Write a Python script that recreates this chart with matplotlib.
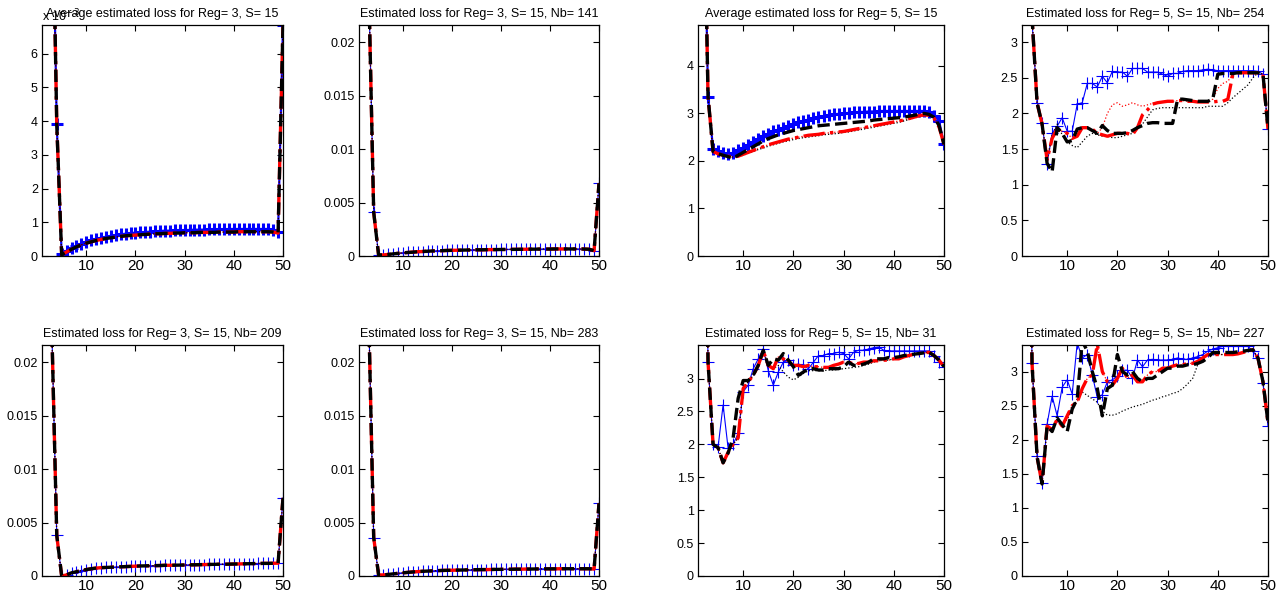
import numpy as np
import matplotlib
matplotlib.use("Agg")
import matplotlib.pyplot as plt
from matplotlib.ticker import FormatStrFormatter

plt.rcParams['font.family'] = ['Liberation Sans', 'DejaVu Sans']
plt.rcParams['font.size'] = 9

# number of clusters on the x axis
k = list(range(2, 51))

# Reg = 3, average (values in units of 1e-3)
avg3_blue = [40.0, 12.1, 3.9, 0.05, 0.16, 0.24, 0.31, 0.37, 0.42, 0.47, 0.51, 0.54, 0.57, 0.60, 0.62,
             0.64, 0.66, 0.68, 0.69, 0.70, 0.71, 0.72, 0.73, 0.74, 0.75, 0.75, 0.76, 0.76, 0.77, 0.77,
             0.78, 0.78, 0.78, 0.79, 0.79, 0.79, 0.79, 0.80, 0.80, 0.80, 0.80, 0.80, 0.80, 0.80, 0.80,
             0.80, 0.77, 0.70, 6.85]
avg3_black = [40.0, 12.1, 3.9, 0.03, 0.12, 0.20, 0.27, 0.33, 0.38, 0.42, 0.46, 0.49, 0.52, 0.54, 0.56,
              0.58, 0.60, 0.61, 0.62, 0.63, 0.64, 0.65, 0.66, 0.66, 0.67, 0.67, 0.68, 0.68, 0.69, 0.69,
              0.69, 0.70, 0.70, 0.70, 0.70, 0.71, 0.71, 0.71, 0.71, 0.72, 0.72, 0.72, 0.72, 0.72, 0.72,
              0.72, 0.71, 0.68, 6.85]

# Reg = 3, single runs
nb141 = [0.2, 0.025, 0.0041, 0.0001, 0.0001, 0.00015, 0.0002, 0.00025, 0.0003, 0.00033, 0.00036,
         0.0004, 0.00042, 0.00045, 0.00047, 0.00049, 0.0005, 0.00052, 0.00053, 0.00054, 0.00055,
         0.00056, 0.00057, 0.00058, 0.00058, 0.00059, 0.0006, 0.0006, 0.00061, 0.00061, 0.00062,
         0.00062, 0.00063, 0.00063, 0.00064, 0.00064, 0.00065, 0.00065, 0.00065, 0.00066, 0.00066,
         0.00066, 0.00066, 0.00066, 0.00066, 0.00065, 0.00063, 0.0005, 0.0068]
nb209 = [0.2, 0.023, 0.0038, 0.0, 0.0001, 0.0003, 0.0004, 0.0005, 0.0006, 0.00068, 0.00074, 0.00078,
         0.0008, 0.00082, 0.00084, 0.00086, 0.00088, 0.0009, 0.00092, 0.00094, 0.00095, 0.00096,
         0.00097, 0.00098, 0.001, 0.001, 0.00101, 0.00102, 0.00103, 0.00104, 0.00105, 0.00106,
         0.00107, 0.00108, 0.00109, 0.0011, 0.0011, 0.00111, 0.00112, 0.00113, 0.00114, 0.00115,
         0.00116, 0.00117, 0.00118, 0.00118, 0.00119, 0.0012, 0.0073]
nb283 = [0.2, 0.024, 0.0036, 0.0001, 0.0001, 0.00015, 0.0002, 0.00025, 0.0003, 0.00034, 0.00038,
         0.00041, 0.00044, 0.00046, 0.00048, 0.0005, 0.00052, 0.00053, 0.00054, 0.00055, 0.00056,
         0.00057, 0.00058, 0.00059, 0.0006, 0.0006, 0.00061, 0.00062, 0.00062, 0.00063, 0.00063,
         0.00064, 0.00064, 0.00065, 0.00065, 0.00066, 0.00066, 0.00067, 0.00067, 0.00067, 0.00068,
         0.00068, 0.00068, 0.00068, 0.00068, 0.00068, 0.00068, 0.00065, 0.0068]

# Reg = 5, average
avg5_blue = [9.0, 3.35, 2.25, 2.2, 2.17, 2.15, 2.17, 2.22, 2.28, 2.34, 2.4, 2.46, 2.52, 2.57, 2.62,
             2.66, 2.7, 2.74, 2.78, 2.81, 2.84, 2.87, 2.9, 2.92, 2.94, 2.96, 2.98, 2.99, 3.0, 3.01,
             3.02, 3.03, 3.03, 3.04, 3.04, 3.05, 3.05, 3.05, 3.05, 3.05, 3.05, 3.05, 3.05, 3.05, 3.05,
             3.02, 2.95, 2.85, 2.35]
avg5_black = [9.0, 3.35, 2.2, 2.15, 2.12, 2.09, 2.06, 2.12, 2.18, 2.24, 2.3, 2.36, 2.42, 2.47, 2.51,
              2.55, 2.58, 2.61, 2.64, 2.66, 2.68, 2.7, 2.72, 2.74, 2.75, 2.76, 2.77, 2.78, 2.79, 2.8,
              2.81, 2.82, 2.83, 2.84, 2.86, 2.87, 2.88, 2.89, 2.9, 2.91, 2.92, 2.94, 2.96, 2.98, 3.0,
              2.98, 2.92, 2.75, 2.35]
avg5_red = [9.0, 3.35, 2.2, 2.15, 2.12, 2.1, 2.08, 2.1, 2.14, 2.18, 2.22, 2.26, 2.3, 2.34, 2.37,
            2.4, 2.43, 2.46, 2.48, 2.5, 2.52, 2.54, 2.55, 2.56, 2.58, 2.59, 2.6, 2.61, 2.62, 2.64,
            2.66, 2.68, 2.7, 2.72, 2.74, 2.76, 2.78, 2.8, 2.82, 2.84, 2.86, 2.89, 2.92, 2.95, 2.97,
            2.96, 2.9, 2.72, 2.35]
avg5_dot = [9.0, 3.35, 2.2, 2.15, 2.12, 2.1, 2.08, 2.09, 2.12, 2.16, 2.2, 2.24, 2.27, 2.31, 2.34,
            2.37, 2.4, 2.42, 2.45, 2.47, 2.49, 2.5, 2.52, 2.53, 2.55, 2.56, 2.57, 2.58, 2.6, 2.61,
            2.63, 2.65, 2.67, 2.69, 2.71, 2.73, 2.75, 2.77, 2.79, 2.81, 2.84, 2.87, 2.9, 2.93, 2.95,
            2.95, 2.9, 2.72, 2.35]

# Reg = 5, Nb = 254
nb254_blue = [9.0, 3.3, 2.15, 1.87, 1.29, 1.72, 1.82, 1.94, 1.75, 1.75, 2.13, 2.15, 2.42, 2.42, 2.37,
              2.52, 2.43, 2.59, 2.58, 2.58, 2.52, 2.63, 2.63, 2.63, 2.58, 2.58, 2.58, 2.55, 2.52, 2.56,
              2.56, 2.59, 2.6, 2.6, 2.6, 2.61, 2.62, 2.61, 2.6, 2.6, 2.6, 2.6, 2.6, 2.6, 2.6,
              2.6, 2.59, 2.55, 1.78]
nb254_black = [9.0, 3.35, 2.15, 1.85, 1.3, 1.18, 1.8, 1.72, 1.6, 1.62, 1.78, 1.8, 1.8, 1.76, 1.72,
               1.83, 1.76, 1.72, 1.72, 1.72, 1.73, 1.76, 1.8, 1.83, 1.86, 1.87, 1.87, 1.86, 1.86, 1.86,
               2.2, 2.2, 2.19, 2.18, 2.17, 2.17, 2.17, 2.2, 2.55, 2.56, 2.56, 2.56, 2.57, 2.57, 2.57,
               2.57, 2.57, 2.55, 1.78]
nb254_red = [9.0, 3.35, 2.15, 1.85, 1.35, 1.65, 1.78, 1.75, 1.72, 1.65, 1.68, 1.8, 1.8, 1.78, 1.72,
             1.7, 1.68, 1.7, 1.72, 1.72, 1.72, 1.7, 1.8, 1.98, 2.05, 2.13, 2.15, 2.16, 2.17, 2.17,
             2.18, 2.18, 2.17, 2.17, 2.16, 2.16, 2.16, 2.16, 2.17, 2.17, 2.2, 2.55, 2.57, 2.57, 2.57,
             2.57, 2.57, 2.55, 1.78]
nb254_dot = [9.0, 3.35, 2.15, 1.85, 1.35, 1.7, 1.85, 1.7, 1.6, 1.55, 1.52, 1.6, 1.68, 1.72, 1.7,
             1.68, 1.68, 1.66, 1.66, 1.68, 1.7, 1.72, 1.78, 1.85, 1.95, 2.05, 2.07, 2.08, 2.08, 2.08,
             2.08, 2.08, 2.08, 2.08, 2.08, 2.08, 2.1, 2.1, 2.1, 2.1, 2.15, 2.22, 2.28, 2.34, 2.4,
             2.5, 2.57, 2.55, 1.78]
nb254_rdot = [9.0, 3.35, 2.15, 1.85, 1.35, 1.65, 1.78, 1.75, 1.72, 1.65, 1.68, 1.8, 1.8, 1.78, 1.72,
              1.8, 2.0, 2.12, 2.15, 2.1, 2.12, 2.15, 2.12, 2.1, 2.12, 2.14, 2.15, 2.16, 2.17, 2.17,
              2.18, 2.18, 2.17, 2.17, 2.16, 2.16, 2.16, 2.2, 2.35, 2.42, 2.45, 2.55, 2.57, 2.57, 2.57,
              2.57, 2.57, 2.55, 1.78]

# Reg = 5, Nb = 31
nb31_blue = [9.0, 3.25, 2.0, 1.96, 2.6, 1.94, 2.0, 2.17, 2.8, 2.9, 3.15, 3.3, 3.45, 3.12, 2.9,
             3.1, 3.25, 3.28, 3.2, 3.22, 3.2, 3.15, 3.25, 3.35, 3.35, 3.38, 3.38, 3.4, 3.38, 3.3,
             3.4, 3.43, 3.43, 3.45, 3.47, 3.48, 3.43, 3.42, 3.42, 3.42, 3.42, 3.42, 3.42, 3.42, 3.42,
             3.42, 3.35, 3.25, 3.18]
nb31_black = [9.0, 3.25, 2.0, 1.95, 1.72, 1.87, 2.1, 2.7, 2.97, 2.97, 3.05, 3.2, 3.43, 3.2, 3.3,
              3.28, 3.38, 3.28, 3.18, 3.05, 3.1, 3.15, 3.15, 3.13, 3.13, 3.15, 3.15, 3.15, 3.18, 3.25,
              3.2, 3.2, 3.22, 3.25, 3.3, 3.3, 3.3, 3.32, 3.32, 3.33, 3.35, 3.36, 3.37, 3.38, 3.39,
              3.4, 3.35, 3.28, 3.18]
nb31_red = [9.0, 3.25, 2.0, 1.95, 1.72, 1.88, 2.0, 2.1, 2.85, 2.95, 3.05, 3.2, 3.42, 3.2, 3.15,
            3.33, 3.3, 3.25, 3.2, 3.2, 3.18, 3.2, 3.18, 3.18, 3.17, 3.17, 3.2, 3.22, 3.25, 3.25,
            3.22, 3.23, 3.25, 3.25, 3.27, 3.27, 3.28, 3.28, 3.3, 3.3, 3.33, 3.35, 3.37, 3.38, 3.39,
            3.4, 3.35, 3.28, 3.18]
nb31_dot = [9.0, 3.25, 2.0, 1.95, 1.72, 1.88, 2.0, 2.1, 2.85, 2.95, 3.05, 3.2, 3.42, 3.2, 3.15,
            3.2, 3.1, 3.02, 2.98, 3.02, 3.08, 3.12, 3.12, 3.12, 3.12, 3.13, 3.13, 3.14, 3.15, 3.16,
            3.17, 3.18, 3.2, 3.22, 3.25, 3.27, 3.28, 3.28, 3.3, 3.3, 3.33, 3.35, 3.37, 3.38, 3.39,
            3.4, 3.35, 3.28, 3.18]

# Reg = 5, Nb = 227
nb227_blue = [9.0, 3.12, 1.76, 1.37, 2.23, 2.64, 2.35, 2.77, 2.88, 2.67, 3.42, 3.2, 3.25, 2.95, 2.62,
              2.66, 2.85, 2.88, 2.93, 3.02, 3.02, 2.9, 3.17, 3.07, 3.17, 3.18, 3.17, 3.17, 3.17, 3.18,
              3.2, 3.18, 3.18, 3.2, 3.22, 3.25, 3.3, 3.33, 3.35, 3.37, 3.37, 3.37, 3.37, 3.37, 3.37,
              3.3, 3.2, 2.83, 2.2]
nb227_black = [9.0, 3.12, 1.75, 1.35, 2.2, 2.12, 2.32, 2.22, 2.12, 2.45, 2.6, 3.45, 3.3, 3.0, 2.75,
               2.35, 2.75, 2.8, 3.25, 3.0, 2.95, 3.0, 2.9, 2.85, 2.9, 2.9, 2.95, 3.0, 3.05, 3.05,
               3.08, 3.08, 3.1, 3.1, 3.12, 3.15, 3.2, 3.28, 3.28, 3.28, 3.28, 3.28, 3.29, 3.3, 3.31,
               3.32, 3.2, 2.85, 2.25]
nb227_red = [9.0, 3.12, 1.75, 1.35, 2.2, 2.15, 2.3, 2.2, 2.35, 2.5, 2.55, 2.75, 2.9, 2.95, 3.4,
             3.0, 2.85, 2.8, 2.9, 3.05, 2.9, 2.95, 2.85, 2.85, 2.95, 3.0, 3.0, 3.05, 3.05, 3.08,
             3.1, 3.1, 3.12, 3.12, 3.15, 3.2, 3.25, 3.25, 3.25, 3.25, 3.25, 3.25, 3.26, 3.28, 3.3,
             3.32, 3.2, 2.85, 2.25]
nb227_dot = [9.0, 3.12, 1.75, 1.35, 2.2, 2.15, 2.3, 2.2, 2.3, 2.45, 2.6, 2.7, 2.65, 2.6, 2.55,
             2.42, 2.36, 2.36, 2.38, 2.42, 2.45, 2.48, 2.5, 2.52, 2.55, 2.58, 2.6, 2.63, 2.65, 2.68,
             2.7, 2.75, 2.82, 2.9, 3.1, 3.2, 3.25, 3.25, 3.25, 3.25, 3.25, 3.25, 3.26, 3.28, 3.3,
             3.32, 3.2, 2.85, 2.25]

titles = [
    "Average estimated loss for Reg= 3, S= 15",
    "Estimated loss for Reg= 3, S= 15, Nb= 141",
    "Average estimated loss for Reg= 5, S= 15",
    "Estimated loss for Reg= 5, S= 15, Nb= 254",
    "Estimated loss for Reg= 3, S= 15, Nb= 209",
    "Estimated loss for Reg= 3, S= 15, Nb= 283",
    "Estimated loss for Reg= 5, S= 15, Nb= 31",
    "Estimated loss for Reg= 5, S= 15, Nb= 227",
]

# (blue, red dotted, black dotted, red dash-dot, black dashed)
series = [
    (avg3_blue, avg3_black, avg3_black, avg3_black, avg3_black),
    (nb141, nb141, nb141, nb141, nb141),
    (avg5_blue, avg5_red, avg5_dot, avg5_red, avg5_black),
    (nb254_blue, nb254_rdot, nb254_dot, nb254_red, nb254_black),
    (nb209, nb209, nb209, nb209, nb209),
    (nb283, nb283, nb283, nb283, nb283),
    (nb31_blue, nb31_red, nb31_dot, nb31_red, nb31_black),
    (nb227_blue, nb227_red, nb227_dot, nb227_red, nb227_black),
]

ylims = [6.85, 0.0216, 4.86, 3.24, 0.0216, 0.0216, 3.51, 3.39]
small_ticks = [0, 0.005, 0.01, 0.015, 0.02]
half_ticks = [0, 0.5, 1, 1.5, 2, 2.5, 3]
yticks = [list(range(0, 7)), small_ticks, list(range(0, 5)), half_ticks,
          small_ticks, small_ticks, half_ticks, half_ticks]
averaged = [True, False, True, False, False, False, False, False]

W, H = 1286, 601
fig = plt.figure(figsize=(W / 100, H / 100), dpi=100)

col_left = [42, 359, 698, 1022]
col_width = [241, 240, 246, 246]
row_top = [25, 345]
ax_h = 231

for i in range(8):
    r, c = divmod(i, 4)
    ax = fig.add_axes([col_left[c] / W, 1 - (row_top[r] + ax_h) / H, col_width[c] / W, ax_h / H])
    blue, rdot, kdot, rdd, kdash = series[i]

    if averaged[i]:
        ax.plot(k, blue, color='b', ls='-', lw=1.6, marker='+', ms=8, mew=2.2)
    else:
        ax.plot(k, blue, color='b', ls='-', lw=0.8, marker='+', ms=8, mew=0.8)
    ax.plot(k, rdot, color='r', ls=':', lw=0.9)
    ax.plot(k, kdot, color='k', ls=':', lw=0.9)
    ax.plot(k, rdd, color='r', ls='-.', lw=2.4)
    ax.plot(k, kdash, color='k', ls='--', lw=2.4)

    ax.set_xlim(1, 50)
    ax.set_ylim(0, ylims[i])
    ax.set_xticks([10, 20, 30, 40, 50])
    ax.set_yticks(yticks[i])
    ax.yaxis.set_major_formatter(FormatStrFormatter('%g'))
    ax.tick_params(direction='in', top=True, right=True, length=4, width=0.8, pad=3)
    ax.tick_params(axis='x', labelsize=11, pad=2)
    ax.tick_params(axis='y', labelsize=9)
    for s in ax.spines.values():
        s.set_linewidth(0.9)
    ax.set_title(titles[i], fontsize=9, pad=6)
    if i == 0:
        ax.text(0.0, 1.005, r"x 10$^{-3}$", transform=ax.transAxes, ha='left', va='bottom', fontsize=9)

fig.savefig("out.png", dpi=100)
